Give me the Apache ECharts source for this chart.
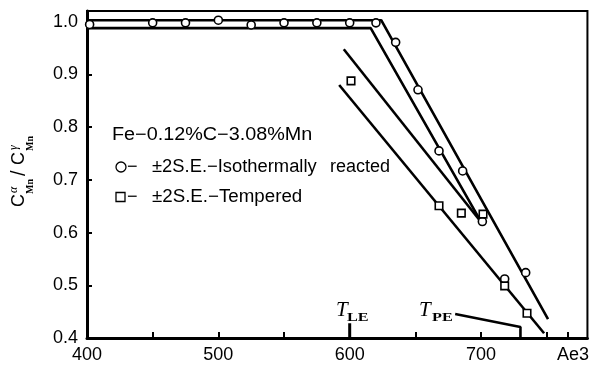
<!DOCTYPE html>
<html>
<head>
<meta charset="utf-8">
<script src="https://cdn.jsdelivr.net/npm/echarts@6/dist/echarts.min.js"></script>
<style>
  html, body { margin: 0; padding: 0; background: #fff; }
  #chart { width: 592px; height: 369px; }
</style>
</head>
<body>
<div id="chart"></div>
<script>
// Mn partition ratio between ferrite and austenite vs. reaction temperature (°C)
const isoTemps = [402, 450, 475, 500, 525, 550, 575, 600, 620, 635, 652, 668, 686, 701, 718, 734];
const isoRatio = [0.995, 0.998, 0.998, 1.003, 0.994, 0.998, 0.998, 0.998, 0.998, 0.961, 0.871, 0.755, 0.717, 0.621, 0.512, 0.524];
const temperedTemps = [601, 668, 685, 701.5, 718, 735];
const temperedRatio = [0.888, 0.651, 0.637, 0.635, 0.499, 0.447];

// ±2 S.E. band limits
const isoUpperT = [400, 624, 751];
const isoUpperR = [1.003, 1.003, 0.436];
const isoLowerT = [400, 616, 701];
const isoLowerR = [0.988, 0.988, 0.616];
const tempUpperT = [595.5, 700];
const tempUpperR = [0.948, 0.620];
const tempLowerT = [592, 748];
const tempLowerR = [0.880, 0.409];

// Reference temperatures
const tLE = 600;
const tPE = 730;
const ae3 = 766;
const xTickValues = [450, 500, 550, 600, 650, 700, 750, ae3];
const xLabelValues = [400, 500, 600, 700];
const yTickValues = [0.5, 0.6, 0.7, 0.8, 0.9, 1.0];
const yLabelValues = [0.4, 0.5, 0.6, 0.7, 0.8, 0.9, 1.0];

const zip = (a, b) => a.map((v, i) => [v, b[i]]);
const FONT = '"Liberation Sans", Arial, sans-serif';
const SERIF = '"Liberation Serif", "Times New Roman", serif';

const lineSeries = (t, r) => ({
  type: 'line',
  data: zip(t, r),
  symbol: 'none',
  lineStyle: { color: '#000', width: 2.6 },
  z: 2,
  silent: true
});

const chart = echarts.init(document.getElementById('chart'), null, { renderer: 'canvas' });

const txt = (x, y, text, font, align, vAlign, sx) => ({
  type: 'text', x: x, y: y, scaleX: sx || 1,
  style: {
    text: text, font: font, fill: '#000',
    align: align || 'left', verticalAlign: vAlign || 'middle',
    textAlign: align || 'left', textVerticalAlign: vAlign || 'middle'
  }
});

chart.setOption({
  animation: false,
  backgroundColor: '#fff',
  grid: {
    left: 87, right: 2, top: 11, bottom: 31,
    show: true, borderColor: '#000', borderWidth: 2
  },
  xAxis: {
    type: 'value', min: 400, max: 781,
    splitLine: { show: false },
    axisLine: { show: true, onZero: false, lineStyle: { color: '#000', width: 3 } },
    axisTick: { show: true, inside: true, length: 6, lineStyle: { color: '#000', width: 2 }, customValues: xTickValues },
    axisLabel: {
      color: '#000', fontSize: 18, fontFamily: FONT, margin: 8,
      customValues: xLabelValues.concat([770]),
      formatter: v => (v === 770 ? 'Ae3' : String(v))
    }
  },
  yAxis: {
    type: 'value', min: 0.4, max: 1.0205,
    splitLine: { show: false },
    axisLine: { show: true, onZero: false, lineStyle: { color: '#000', width: 3 } },
    axisTick: { show: true, inside: true, length: 5, lineStyle: { color: '#000', width: 2 }, customValues: yTickValues },
    axisLabel: {
      color: '#000', fontSize: 18, fontFamily: FONT, margin: 9,
      customValues: yLabelValues,
      formatter: v => v.toFixed(1)
    }
  },
  series: [
    lineSeries(isoUpperT, isoUpperR),
    lineSeries(isoLowerT, isoLowerR),
    lineSeries(tempUpperT, tempUpperR),
    lineSeries(tempLowerT, tempLowerR),
    // T_LE marker tick
    {
      type: 'line', data: [[tLE, 0.4], [tLE, 0.428]], symbol: 'none',
      lineStyle: { color: '#000', width: 3 }, z: 3, silent: true
    },
    // T_PE leader line
    {
      type: 'line', data: [[680.3, 0.4455], [tPE, 0.421], [tPE, 0.4]], symbol: 'none',
      lineStyle: { color: '#000', width: 2.6 }, z: 3, silent: true
    },
    {
      name: 'Isothermally reacted', type: 'scatter', data: zip(isoTemps, isoRatio),
      symbol: 'circle', symbolSize: 8,
      itemStyle: { color: '#fff', borderColor: '#000', borderWidth: 1.6, opacity: 1 }, z: 5
    },
    {
      name: 'Tempered', type: 'scatter', data: zip(temperedTemps, temperedRatio),
      symbol: 'rect', symbolSize: 7.5,
      itemStyle: { color: '#fff', borderColor: '#000', borderWidth: 1.6, opacity: 1 }, z: 5
    }
  ],
  graphic: [
    // vertical axis title: C^α_Mn / C^γ_Mn
    {
      type: 'group', x: 19, y: 207, rotation: Math.PI / 2,
      children: [
        txt(0, 0, 'C', '18px ' + FONT),
        txt(14, -5, 'α', 'italic 12px ' + SERIF),
        txt(13, 11, 'Mn', 'bold 10px ' + SERIF),
        txt(31, 0, '/', '20px ' + FONT),
        txt(42, 0, 'C', '18px ' + FONT),
        txt(57, -5, 'γ', 'italic 12px ' + SERIF),
        txt(56, 11, 'Mn', 'bold 10px ' + SERIF)
      ]
    },
    // composition and key
    txt(112, 135, 'Fe−0.12%C−3.08%Mn', '18px ' + FONT, 'left', 'middle', 1.1),
    {
      type: 'circle', shape: { cx: 121, cy: 167, r: 5 },
      style: { fill: '#fff', stroke: '#000', lineWidth: 1.3 }
    },
    txt(127, 167, '−', '18px ' + FONT),
    txt(152, 167, '±2S.E.−Isothermally', '18px ' + FONT, 'left', 'middle', 1.02),
    txt(390, 167, 'reacted', '18px ' + FONT, 'right'),
    {
      type: 'rect', shape: { x: 116, y: 192.5, width: 9, height: 9 },
      style: { fill: '#fff', stroke: '#000', lineWidth: 1.3 }
    },
    txt(127, 197, '−', '18px ' + FONT),
    txt(152, 197, '±2S.E.−Tempered', '18px ' + FONT, 'left', 'middle', 1.04),
    // T_LE and T_PE labels
    txt(336, 321, 'T', 'italic 21px ' + SERIF, 'left', 'bottom'),
    txt(347, 324, 'LE', 'bold 12px ' + SERIF, 'left', 'bottom', 1.35),
    txt(419, 321, 'T', 'italic 21px ' + SERIF, 'left', 'bottom'),
    txt(432, 324, 'PE', 'bold 12px ' + SERIF, 'left', 'bottom', 1.35)
  ]
});
</script>
</body>
</html>
